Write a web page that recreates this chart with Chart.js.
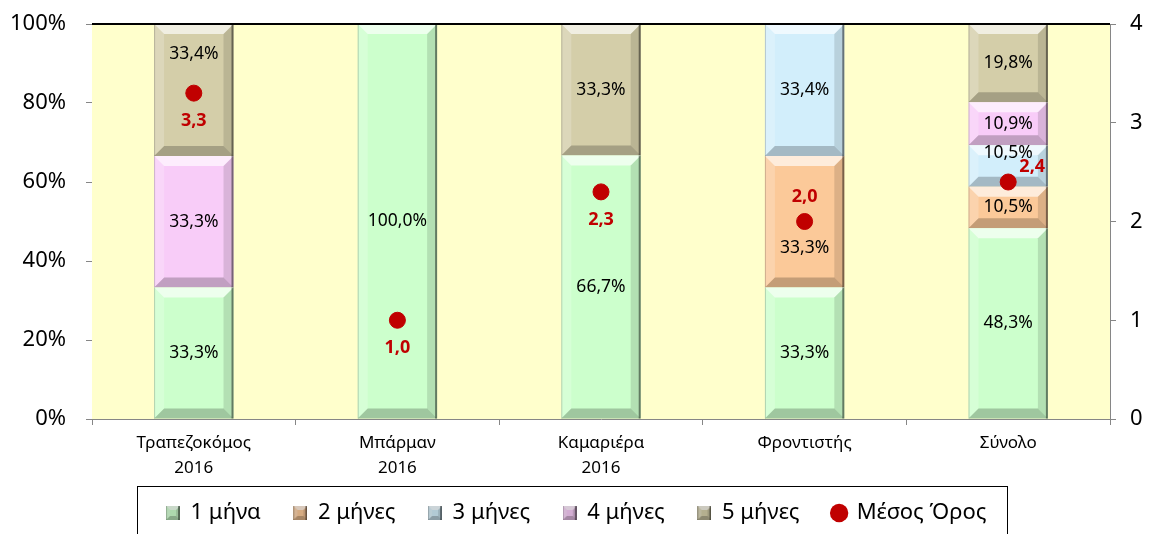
<!DOCTYPE html>
<html>
<head>
<meta charset="utf-8">
<script src="https://cdn.jsdelivr.net/npm/chart.js@4.4.1/dist/chart.umd.min.js"></script>
<style>
  html, body { margin: 0; padding: 0; background: #fff; }
  #wrap { width: 1153px; height: 534px; }
</style>
</head>
<body>
<div id="wrap"><canvas id="chart" width="1153" height="534"></canvas></div>
<script>
// data
const categories = [['Τραπεζοκόμος', '2016'], ['Μπάρμαν', '2016'], ['Καμαριέρα', '2016'], 'Φροντιστής', 'Σύνολο'];
const seriesNames = ['1 μήνα', '2 μήνες', '3 μήνες', '4 μήνες', '5 μήνες'];
const oneMonth = [33.3, 100.0, 66.7, 33.3, 48.3];
const twoMonths = [null, null, null, 33.3, 10.5];
const threeMonths = [null, null, null, 33.4, 10.5];
const fourMonths = [33.3, null, null, null, 10.9];
const fiveMonths = [33.4, null, 33.3, null, 19.8];
const averageName = 'Μέσος Όρος';
const average = [3.3, 1.0, 2.3, 2.0, 2.4];
const percentTicks = [0, 20, 40, 60, 80, 100];
const averageTicks = [0, 1, 2, 3, 4];

const seriesValues = [oneMonth, twoMonths, threeMonths, fourMonths, fiveMonths];
const seriesColors = ['#CCFFCC', '#FBC999', '#D2EEFB', '#F8CCF8', '#D4CEA9'];
const avgColor = '#C00000';
const FONT = "'Noto Sans', 'DejaVu Sans', sans-serif";

// a few labels are pushed aside in the original so the red dots stay readable
const barLabelShift = { '4-0': -36, '1-3': 26, '2-4': -13 };
const avgLabelShift = [[0, 28], [0, 28], [0, 28], [0, -25], [24, -15]];

function fmt(v) {
    return v.toFixed(1).replace('.', ',');
}

// bevelled look of the Excel bars
function drawBevel(ctx, left, top, right, bottom, b) {
    const h = bottom - top, w = right - left;
    b = Math.min(b, h / 2, w / 2);
    const poly = (pts, fill) => {
        ctx.beginPath();
        ctx.moveTo(pts[0][0], pts[0][1]);
        for (let i = 1; i < pts.length; i++) ctx.lineTo(pts[i][0], pts[i][1]);
        ctx.closePath();
        ctx.fillStyle = fill;
        ctx.fill();
    };
    poly([[left, top], [right, top], [right - b, top + b], [left + b, top + b]], 'rgba(255,255,255,0.65)');
    poly([[left, top], [left + b, top + b], [left + b, bottom - b], [left, bottom]], 'rgba(255,255,255,0.2)');
    poly([[right, top], [right - b, top + b], [right - b, bottom - b], [right, bottom]], 'rgba(0,0,0,0.12)');
    poly([[left, bottom], [left + b, bottom - b], [right - b, bottom - b], [right, bottom]], 'rgba(0,0,0,0.22)');
    ctx.fillStyle = 'rgba(0,0,0,0.45)';
    ctx.fillRect(right - 2, top, 2, h);
    ctx.fillStyle = 'rgba(0,0,0,0.18)';
    ctx.fillRect(left, top, 1, h);
}

function legendIcon(color) {
    const c = document.createElement('canvas');
    c.width = 14; c.height = 14;
    const g = c.getContext('2d');
    g.fillStyle = color;
    g.fillRect(0, 0, 14, 14);
    drawBevel(g, 0, 0, 14, 14, 4);
    g.fillStyle = 'rgba(0,0,0,0.15)';
    g.fillRect(0, 0, 14, 14);
    return c;
}
const legendIcons = seriesColors.map(legendIcon);

const chartDecor = {
    id: 'chartDecor',
    beforeDatasetsDraw(chart) {
        const { ctx, chartArea: a } = chart;
        ctx.save();
        ctx.fillStyle = '#FFFFCC';
        ctx.fillRect(a.left, a.top, a.right - a.left, a.bottom - a.top);
        ctx.restore();
    },
    afterDatasetDraw(chart, args) {
        const meta = args.meta;
        if (meta.type !== 'bar') return;
        const ctx = chart.ctx;
        ctx.save();
        meta.data.forEach((bar, i) => {
            const v = chart.data.datasets[args.index].data[i];
            if (v == null) return;
            const half = bar.width / 2;
            const top = Math.min(bar.y, bar.base), bottom = Math.max(bar.y, bar.base);
            drawBevel(ctx, bar.x - half, top, bar.x + half, bottom, 10);
            ctx.fillStyle = '#000';
            ctx.font = '17.5px ' + FONT;
            ctx.textAlign = 'center';
            ctx.textBaseline = 'middle';
            const dy = barLabelShift[args.index + '-' + i] || 0;
            ctx.fillText(fmt(v) + '%', bar.x, (top + bottom) / 2 + dy);
        });
        ctx.restore();
    },
    afterDatasetsDraw(chart) {
        const { ctx, chartArea: a } = chart;
        ctx.save();
        ctx.strokeStyle = '#000';
        ctx.lineWidth = 2;
        ctx.beginPath();
        ctx.moveTo(a.left, a.top);
        ctx.lineTo(a.right, a.top);
        ctx.stroke();
        const idx = chart.data.datasets.length - 1;
        const meta = chart.getDatasetMeta(idx);
        ctx.fillStyle = avgColor;
        ctx.font = 'bold 18px ' + FONT;
        ctx.textAlign = 'center';
        ctx.textBaseline = 'middle';
        meta.data.forEach((pt, i) => {
            const s = avgLabelShift[i];
            ctx.fillText(fmt(average[i]), pt.x + s[0], pt.y + s[1]);
        });
        ctx.restore();
    },
    afterDraw(chart) {
        const lg = chart.legend;
        if (!lg || !lg.legendHitBoxes.length) return;
        const boxes = lg.legendHitBoxes;
        const left = Math.min(...boxes.map(b => b.left)) - 30;
        const right = Math.max(...boxes.map(b => b.left + b.width)) + 20;
        const ctx = chart.ctx;
        ctx.save();
        ctx.strokeStyle = '#000';
        ctx.lineWidth = 1;
        ctx.strokeRect(Math.round(left) + 0.5, Math.round(lg.top) + 0.5, Math.round(right - left), 60);
        ctx.restore();
    }
};

const datasets = seriesNames.map((name, i) => ({
    type: 'bar',
    label: name,
    data: seriesValues[i],
    backgroundColor: seriesColors[i],
    borderWidth: 0,
    yAxisID: 'y',
    order: 1,
    barPercentage: 0.39,
    categoryPercentage: 1
}));
datasets.push({
    type: 'line',
    label: averageName,
    data: average,
    yAxisID: 'y1',
    showLine: false,
    pointRadius: 8,
    pointHoverRadius: 8,
    pointBackgroundColor: avgColor,
    pointBorderColor: avgColor,
    backgroundColor: avgColor,
    borderColor: avgColor,
    order: 0
});

// vertical axes: fixed widths, and no extra room above the plot for the tick labels
function fixVertical(width) {
    return scale => {
        scale.width = width;
        scale.paddingTop = 0;
        scale.paddingBottom = 0;
    };
}

new Chart(document.getElementById('chart'), {
    type: 'bar',
    data: { labels: categories, datasets: datasets },
    options: {
        responsive: false,
        animation: false,
        layout: { autoPadding: false, padding: { top: 24, left: 0, right: 0, bottom: 0 } },
        plugins: {
            tooltip: { enabled: false },
            legend: {
                position: 'bottom',
                labels: {
                    color: '#000',
                    font: { family: FONT, size: 22 },
                    padding: 16,
                    boxWidth: 13,
                    boxHeight: 13,
                    usePointStyle: true,
                    generateLabels(chart) {
                        const n = chart.data.datasets.length;
                        return chart.data.datasets.map((ds, i) => ({
                            text: i < n - 1 ? ds.label + '   ' : ds.label,
                            fillStyle: i < legendIcons.length ? seriesColors[i] : avgColor,
                            strokeStyle: i < legendIcons.length ? seriesColors[i] : avgColor,
                            lineWidth: 0,
                            pointStyle: i < legendIcons.length ? legendIcons[i] : 'circle',
                            hidden: false,
                            datasetIndex: i,
                            fontColor: '#000'
                        }));
                    }
                }
            }
        },
        scales: {
            x: {
                stacked: true,
                grid: { offset: true, drawOnChartArea: false, drawTicks: true, tickLength: 6, color: '#868686' },
                border: { color: '#868686', width: 1 },
                ticks: { color: '#000', font: { family: FONT, size: 17, lineHeight: 1.45 }, padding: 6, maxRotation: 0 },
                afterFit(scale) { scale.height = 67; }
            },
            y: {
                stacked: true,
                position: 'left',
                min: 0,
                max: 100,
                afterBuildTicks(scale) { scale.ticks = percentTicks.map(v => ({ value: v })); },
                grid: { drawOnChartArea: false, tickLength: 6, color: '#868686' },
                border: { color: '#868686', width: 1 },
                ticks: { color: '#000', font: { family: FONT, size: 22 }, padding: 20, callback: v => v + '%' },
                afterFit: fixVertical(92)
            },
            y1: {
                position: 'right',
                min: 0,
                max: 4,
                afterBuildTicks(scale) { scale.ticks = averageTicks.map(v => ({ value: v })); },
                grid: { drawOnChartArea: false, tickLength: 6, color: '#868686' },
                border: { color: '#868686', width: 1 },
                ticks: { color: '#000', font: { family: FONT, size: 22 }, padding: 14 },
                afterFit: fixVertical(43)
            }
        }
    },
    plugins: [chartDecor]
});
</script>
</body>
</html>
